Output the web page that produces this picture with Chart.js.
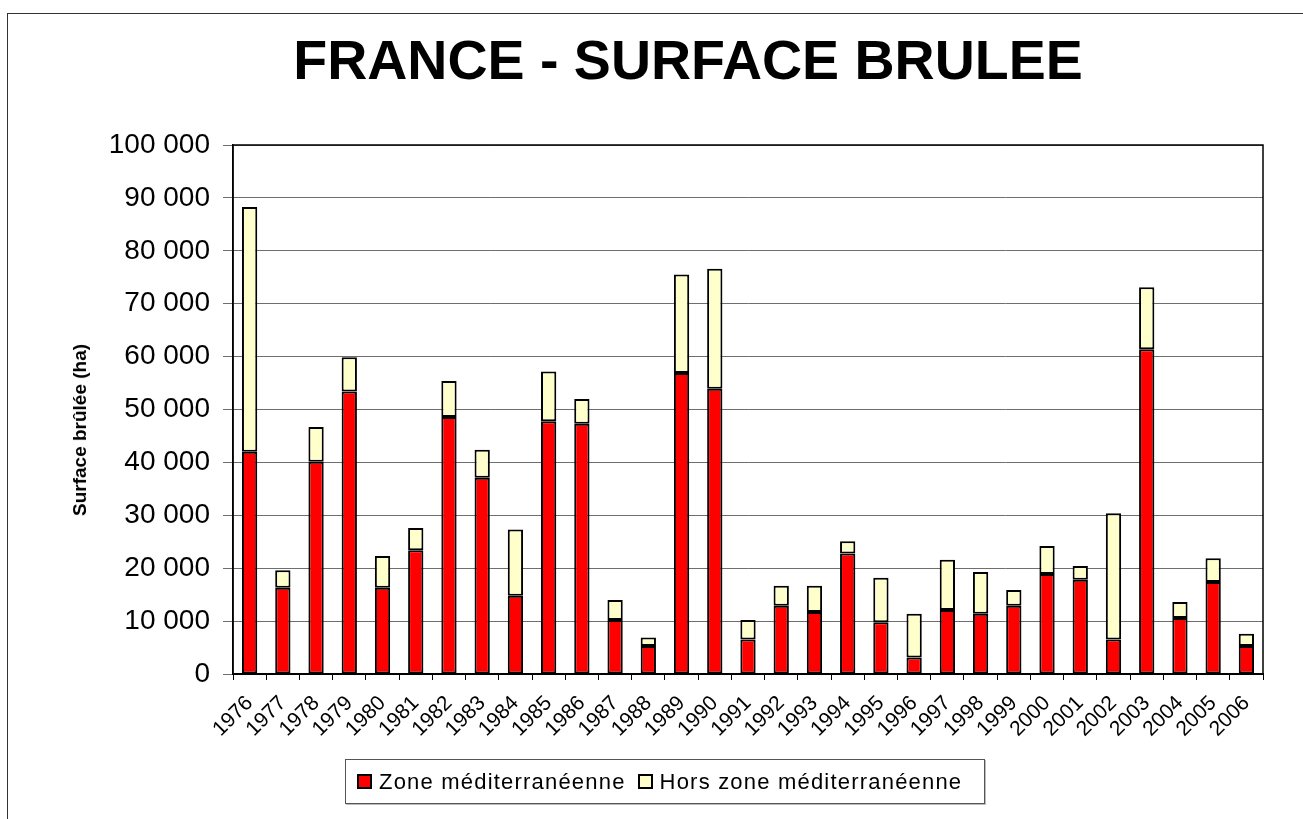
<!DOCTYPE html>
<html>
<head>
<meta charset="utf-8">
<script src="https://cdn.jsdelivr.net/npm/chart.js@4"></script>
<style>
  body { margin: 0; background: #fff; }
  #wrap { position: relative; width: 1303px; height: 819px; overflow: hidden;
          font-family: Arial, "Liberation Sans", sans-serif; }
  #frame { position: absolute; left: 7px; top: 13px; width: 1400px; height: 900px;
           border-left: 1.5px solid #333; border-top: 1.5px solid #333; }
  canvas { position: absolute; left: 0; top: 0; }
  #title { position: absolute; left: 0; top: 27px; width: 1376px; text-align: center;
           font-size: 55.5px; font-weight: bold; line-height: 66px; color: #000; }
  #ytitle { position: absolute; left: 80px; top: 430px; transform: translate(-50%, -50%) rotate(-90deg);
            white-space: nowrap; font-size: 19px; font-weight: bold; color: #000; }
  #legend { position: absolute; left: 345px; top: 759px; width: 638px; height: 43px;
            border: 1px solid #555; box-shadow: 1px 1px 0 #bbb; background: #fff;
            display: flex; align-items: center;
            font-size: 22px; letter-spacing: 1.2px; color: #000; }
  .item { display: flex; align-items: center; margin-left: 11px; }
  .item + .item { margin-left: 12px; }
  .box { width: 11px; height: 11px; border: 2px solid #000; margin-right: 7px; }
</style>
</head>
<body>
<div id="wrap">
  <div id="frame"></div>
  <canvas id="chart" width="1303" height="819"></canvas>
  <div id="title"></div>
  <div id="ytitle"></div>
  <div id="legend"></div>
</div>
<script>
const years = ["1976","1977","1978","1979","1980","1981","1982","1983","1984","1985","1986",
  "1987","1988","1989","1990","1991","1992","1993","1994","1995","1996","1997","1998","1999",
  "2000","2001","2002","2003","2004","2005","2006"];

// zone mediterraneenne (ha)
const medZone = [42000,16300,40100,53400,16300,23400,48600,37100,14800,47800,47300,
  10200,5300,56900,53900,6500,12900,11700,22800,9800,3100,12100,11400,12900,
  18900,17800,6500,61400,10600,17400,5300];

// total surface brulee (ha)
const totals = [88300,19600,46700,59900,22300,27600,55400,42400,27300,57200,52000,
  14000,6900,75500,76600,10200,16700,16700,25100,18200,11400,21600,19300,15900,
  24200,20400,30400,73100,13600,21900,7600];

const horsZone = totals.map((t, i) => t - medZone[i]);

const seriesNames = ["Zone méditerranéenne", "Hors zone méditerranéenne"];
const seriesColors = ["#ff0000", "#ffffcc"];

const chartTitle = "FRANCE - SURFACE BRULEE";
const yTitle = "Surface brûlée (ha)";

const yTicksMax = 100000;
const yStep = 10000;

const font = 'Arial, "Liberation Sans", sans-serif';

const fmt = (v) => String(v).replace(/\B(?=(\d{3})+(?!\d))/g, " ");

// frame around the plot area
const plotBorder = {
  id: "plotBorder",
  afterDatasetsDraw(chart) {
    const { ctx, chartArea: a } = chart;
    ctx.save();
    ctx.strokeStyle = "#000";
    ctx.lineWidth = 1.5;
    ctx.strokeRect(a.left, a.top, a.right - a.left, a.bottom - a.top);
    ctx.restore();
  },
};

document.getElementById("title").textContent = chartTitle;
document.getElementById("ytitle").textContent = yTitle;

const ctx = document.getElementById("chart").getContext("2d");

const chart = new Chart(ctx, {
  type: "bar",
  data: {
    labels: years,
    datasets: [
      {
        label: seriesNames[0],
        data: medZone,
        backgroundColor: seriesColors[0],
        borderColor: "#000",
        borderWidth: 2,
        borderSkipped: false,
      },
      {
        label: seriesNames[1],
        data: horsZone,
        backgroundColor: seriesColors[1],
        borderColor: "#000",
        borderWidth: 2,
        borderSkipped: false,
      },
    ],
  },
  options: {
    animation: false,
    responsive: false,
    layout: { padding: { left: 0, right: 40, top: 145, bottom: 0 } },
    datasets: { bar: { barPercentage: 0.46, categoryPercentage: 1 } },
    plugins: {
      legend: { display: false },
      tooltip: { enabled: false },
      title: { display: false },
    },
    scales: {
      x: {
        stacked: true,
        afterFit: (s) => { s.height = 145; },
        grid: { offset: true, drawOnChartArea: false, drawTicks: true, tickLength: 6, color: "#000" },
        border: { color: "#000", width: 2 },
        ticks: {
          color: "#000",
          minRotation: 45,
          maxRotation: 45,
          autoSkip: false,
          padding: 11,
          font: { family: font, size: 21 },
        },
      },
      y: {
        stacked: true,
        min: 0,
        max: yTicksMax,
        afterFit: (s) => { s.width = 233; },
        grid: { color: "#6e6e6e", lineWidth: 1, tickLength: 10 },
        border: { color: "#000", width: 1.5 },
        ticks: {
          stepSize: yStep,
          color: "#000",
          padding: 13,
          font: { family: font, size: 28 },
          callback: (v) => fmt(v),
        },
      },
    },
  },
  plugins: [plotBorder],
});

// legend box built from the datasets
const legend = document.getElementById("legend");
chart.data.datasets.forEach((ds) => {
  const item = document.createElement("div");
  item.className = "item";
  item.innerHTML = `<span class="box" style="background:${ds.backgroundColor}"></span><span>${ds.label}</span>`;
  legend.appendChild(item);
});
</script>
</body>
</html>
